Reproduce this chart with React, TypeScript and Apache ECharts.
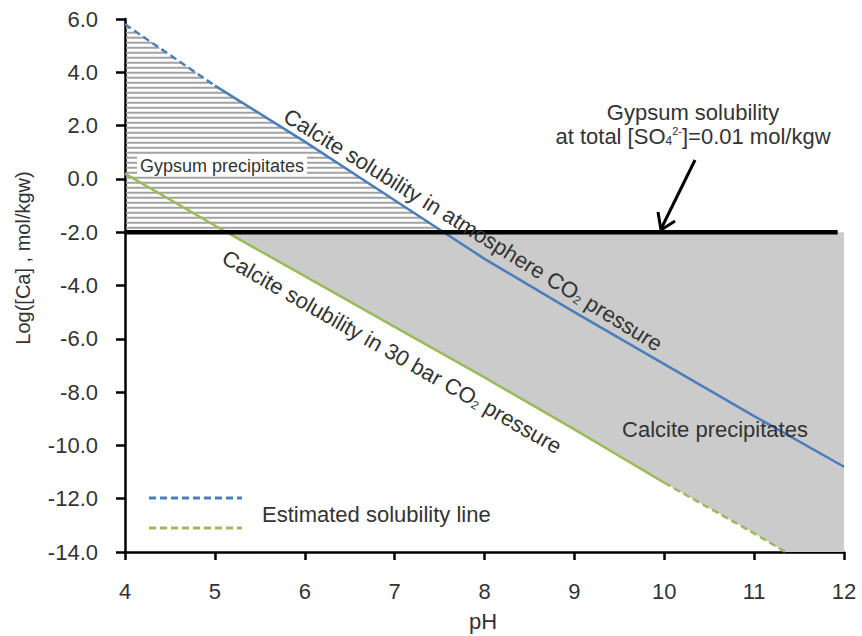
import React, { useEffect, useRef } from "react";
import * as echarts from "echarts";

// Calcite solubility under atmospheric CO2 pressure: pH vs log[Ca]
const phAtm = [4, 5, 6, 7, 8, 9, 10, 11, 12];
const logCaAtm = [5.8, 3.5, 1.4, -0.8, -3.0, -5.0, -6.95, -8.9, -10.8];
// points up to this index are estimated (dashed)
const atmEstimatedUntil = 1;

// Calcite solubility under 30 bar CO2 pressure
const ph30 = [4, 5, 6, 7, 8, 9, 10, 11, 11.35];
const logCa30 = [0.2, -1.75, -3.65, -5.55, -7.45, -9.4, -11.4, -13.3, -14.0];
// points from this index on are estimated (dashed)
const bar30EstimatedFrom = 6;

// Gypsum solubility at total [SO4 2-] = 0.01 mol/kgw
const gypsumLogCa = -2;
const gypsumLineEnd = 11.93;

const phMin = 4;
const phMax = 12;
const logCaMin = -14;
const logCaMax = 6;

const FONT = "'Liberation Sans', Arial, Helvetica, sans-serif";
const TEXT = "#333333";
const BLUE = "#4a7ebb";
const GREEN = "#9bbb59";

const zip = (xs: number[], ys: number[]) => xs.map((x, i) => [x, ys[i]]);

// pH at which a piecewise-linear curve reaches a given log[Ca] level
function phAtLevel(ph: number[], v: number[], level: number): number {
  for (let i = 0; i < v.length - 1; i++) {
    const a = v[i];
    const b = v[i + 1];
    if ((a - level) * (b - level) <= 0 && a !== b) {
      return ph[i] + ((level - a) / (b - a)) * (ph[i + 1] - ph[i]);
    }
  }
  return NaN;
}

export default function App() {
  const ref = useRef<HTMLDivElement>(null);

  useEffect(() => {
    if (!ref.current) return;
    const chart = echarts.init(ref.current, null, { renderer: "svg" });

    const regions = (params: any, api: any) => {
      const children: any[] = [];
      // calcite precipitation field (grey)
      const cross = phAtLevel(ph30, logCa30, gypsumLogCa);
      const last = ph30.length - 1;
      const poly: number[][] = [
        [cross, gypsumLogCa],
        [phMax, gypsumLogCa],
        [phMax, logCaMin],
        [ph30[last], logCa30[last]],
      ];
      for (let i = last - 1; i >= 0; i--) {
        if (ph30[i] > cross) poly.push([ph30[i], logCa30[i]]);
      }
      children.push({
        type: "polygon",
        shape: { points: poly.map((p) => api.coord(p)) },
        style: { fill: "#cbcbcb" },
      });

      // gypsum precipitation field (horizontal hatching)
      const base = api.coord([phMin, gypsumLogCa]);
      const pxPerUnit = base[1] - api.coord([phMin, gypsumLogCa + 1])[1];
      const yTop = api.coord([phMin, logCaAtm[0]])[1];
      const xLeft = base[0];
      for (let py = base[1] - 4.5; py > yTop; py -= 5) {
        const v = gypsumLogCa + (base[1] - py) / pxPerUnit;
        const ph = phAtLevel(phAtm, logCaAtm, v);
        const x2 = api.coord([ph, v])[0];
        children.push({
          type: "line",
          shape: { x1: xLeft + 1, y1: py, x2, y2: py },
          style: { stroke: "#a2a2a2", lineWidth: 2 },
        });
      }
      return { type: "group", children };
    };

    const sub = { fontSize: 12, fontFamily: FONT, fill: TEXT, verticalAlign: "bottom" };
    const sup = { fontSize: 11, fontFamily: FONT, fill: TEXT, verticalAlign: "top" };
    const base22 = { fontSize: 22, fontFamily: FONT, fill: TEXT };

    chart.setOption({
      animation: false,
      backgroundColor: "#ffffff",
      grid: { left: 125, top: 19, width: 719, height: 533, outerBoundsMode: "none" },
      xAxis: {
        type: "value",
        min: phMin,
        max: phMax,
        interval: 1,
        splitLine: { show: false },
        axisLine: { onZero: false, lineStyle: { color: "#000", width: 2.5 } },
        axisTick: { length: 8, lineStyle: { color: "#000", width: 2.5 } },
        axisLabel: { fontSize: 22, color: TEXT, fontFamily: FONT, margin: 28 },
      },
      yAxis: {
        type: "value",
        min: logCaMin,
        max: logCaMax,
        interval: 2,
        splitLine: { show: false },
        axisLine: { onZero: false, lineStyle: { color: "#000", width: 2.5 } },
        axisTick: { length: 9, lineStyle: { color: "#000", width: 2.5 } },
        axisLabel: {
          fontSize: 22,
          color: TEXT,
          fontFamily: FONT,
          margin: 27,
          formatter: (v: number) => v.toFixed(1),
        },
      },
      series: [
        {
          type: "custom",
          coordinateSystem: "cartesian2d",
          silent: true,
          z: 1,
          data: [[phMin, gypsumLogCa]],
          renderItem: regions,
        },
        {
          type: "line",
          z: 3,
          symbol: "none",
          data: zip(phAtm, logCaAtm).slice(0, atmEstimatedUntil + 1),
          lineStyle: { color: BLUE, width: 2.5, type: [7, 4] },
        },
        {
          type: "line",
          z: 3,
          symbol: "none",
          data: zip(phAtm, logCaAtm).slice(atmEstimatedUntil),
          lineStyle: { color: BLUE, width: 2.5 },
        },
        {
          type: "line",
          z: 3,
          symbol: "none",
          data: zip(ph30, logCa30).slice(0, bar30EstimatedFrom + 1),
          lineStyle: { color: GREEN, width: 2.5 },
        },
        {
          type: "line",
          z: 3,
          symbol: "none",
          data: zip(ph30, logCa30).slice(bar30EstimatedFrom),
          lineStyle: { color: GREEN, width: 2.5, type: [7, 4] },
        },
        {
          type: "line",
          z: 4,
          symbol: "none",
          data: [
            [phMin, gypsumLogCa],
            [gypsumLineEnd, gypsumLogCa],
          ],
          lineStyle: { color: "#000", width: 4.5 },
        },
      ],
      graphic: [
        {
          type: "text",
          x: 23,
          y: 258,
          rotation: Math.PI / 2,
          style: {
            text: "Log([Ca] , mol/kgw)",
            fontSize: 20,
            fontFamily: FONT,
            fill: TEXT,
            align: "center",
            verticalAlign: "middle",
          },
        },
        {
          type: "text",
          x: 483,
          y: 621,
          style: {
            text: "pH",
            fontSize: 22,
            fontFamily: FONT,
            fill: TEXT,
            align: "center",
            verticalAlign: "middle",
          },
        },
        {
          type: "text",
          x: 137,
          y: 166,
          z: 10,
          style: {
            text: "Gypsum precipitates",
            fontSize: 18,
            fontFamily: FONT,
            fill: TEXT,
            align: "left",
            verticalAlign: "middle",
            backgroundColor: "#ffffff",
            padding: [1, 3, 1, 3],
          },
        },
        {
          type: "text",
          x: 473,
          y: 230,
          z: 10,
          rotation: -0.554,
          style: {
            text: "Calcite solubility in atmosphere CO{sub|2} pressure",
            ...base22,
            rich: { sub },
            align: "center",
            verticalAlign: "middle",
          },
        },
        {
          type: "text",
          x: 392,
          y: 352,
          z: 10,
          rotation: -0.52,
          style: {
            text: "Calcite solubility in 30 bar CO{sub|2} pressure",
            ...base22,
            rich: { sub },
            align: "center",
            verticalAlign: "middle",
          },
        },
        {
          type: "text",
          x: 715,
          y: 429,
          z: 10,
          style: {
            text: "Calcite precipitates",
            ...base22,
            align: "center",
            verticalAlign: "middle",
          },
        },
        {
          type: "text",
          x: 693,
          y: 112,
          z: 10,
          style: {
            text: "Gypsum solubility",
            ...base22,
            align: "center",
            verticalAlign: "middle",
          },
        },
        {
          type: "text",
          x: 693,
          y: 136,
          z: 10,
          style: {
            text: "at total [SO{sub|4}{sup|2-}]=0.01 mol/kgw",
            ...base22,
            rich: { sub, sup },
            align: "center",
            verticalAlign: "middle",
          },
        },
        {
          type: "line",
          z: 10,
          shape: { x1: 695, y1: 160, x2: 661, y2: 229 },
          style: { stroke: "#000", lineWidth: 3 },
        },
        {
          type: "polyline",
          z: 10,
          shape: {
            points: [
              [675, 221],
              [661, 230],
              [658, 212],
            ],
          },
          style: { stroke: "#000", lineWidth: 3, fill: null },
        },
        {
          type: "line",
          z: 10,
          shape: { x1: 149, y1: 498, x2: 242, y2: 498 },
          style: { stroke: BLUE, lineWidth: 3, lineDash: [7, 4] },
        },
        {
          type: "line",
          z: 10,
          shape: { x1: 149, y1: 528, x2: 242, y2: 528 },
          style: { stroke: GREEN, lineWidth: 3, lineDash: [7, 4] },
        },
        {
          type: "text",
          x: 262,
          y: 514,
          z: 10,
          style: {
            text: "Estimated solubility line",
            ...base22,
            align: "left",
            verticalAlign: "middle",
          },
        },
      ],
    });

    return () => chart.dispose();
  }, []);

  return (
    <div
      ref={ref}
      style={{ position: "fixed", left: 0, top: 0, width: 862, height: 636, background: "#fff" }}
    />
  );
}
